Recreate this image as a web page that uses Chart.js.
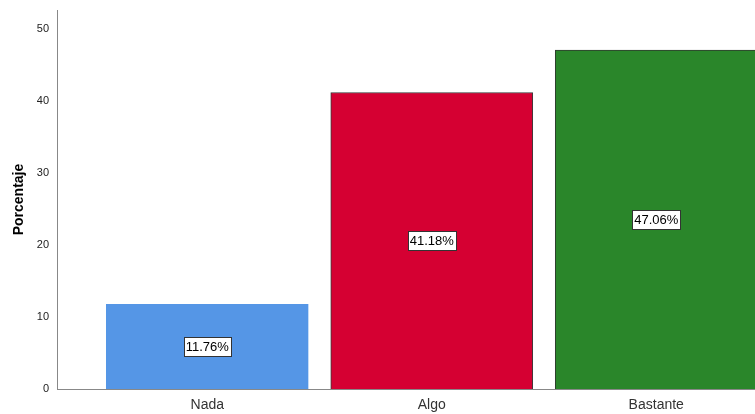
<!DOCTYPE html>
<html>
<head>
<meta charset="utf-8">
<script src="https://cdn.jsdelivr.net/npm/chart.js@4/dist/chart.umd.min.js"></script>
<style>
html,body{margin:0;padding:0;overflow:hidden;background:#fff;width:755px;height:414px;}
#wrap{position:absolute;left:0;top:0;width:770px;height:414px;}
</style>
</head>
<body>
<div id="wrap"><canvas id="c" width="770" height="414"></canvas></div>
<script>
const categories = ["Nada", "Algo", "Bastante"];
const percentages = [11.76, 41.18, 47.06];
const yTicks = [0, 10, 20, 30, 40, 50];
const barColors = ["#5596E6", "#D50032", "#2A862A"];
const barBorders = ["#5596E6", "#3a3a3a", "#2f3a2f"];

const labelPlugin = {
  id: 'valueBoxes',
  afterDatasetsDraw(chart) {
    const ctx = chart.ctx;
    const meta = chart.getDatasetMeta(0);
    const ys = chart.scales.y;
    ctx.save();
    ctx.font = '13px "Liberation Sans", Arial, sans-serif';
    ctx.textAlign = 'center';
    ctx.textBaseline = 'middle';
    meta.data.forEach((bar, i) => {
      const v = percentages[i];
      const txt = v.toFixed(2) + '%';
      const cy = ys.getPixelForValue(v / 2);
      const cx = bar.x;
      const w = Math.round(ctx.measureText(txt).width + 4);
      const h = 19;
      const x0 = Math.round(cx - w / 2) + 0.5, y0 = Math.round(cy - h / 2) + 0.5;
      ctx.fillStyle = '#fff';
      ctx.fillRect(x0, y0, w, h);
      ctx.strokeStyle = '#333';
      ctx.lineWidth = 1;
      ctx.strokeRect(x0, y0, w, h);
      ctx.fillStyle = '#000';
      ctx.fillText(txt, cx, cy + 1);
    });
    ctx.restore();
  }
};

new Chart(document.getElementById('c'), {
  type: 'bar',
  data: {
    datasets: [{
      data: categories.map((c, i) => ({ x: i, y: percentages[i] })),
      backgroundColor: barColors,
      borderColor: barBorders,
      borderWidth: 1,
      barThickness: 202
    }]
  },
  plugins: [labelPlugin],
  options: {
    responsive: false,
    animation: false,
    devicePixelRatio: 1,
    layout: { padding: { top: 10, left: 0, right: 0, bottom: 0 } },
    plugins: { legend: { display: false }, tooltip: { enabled: false } },
    scales: {
      x: {
        type: 'linear',
        min: -0.6693,
        max: 2.5067,
        offset: false,
        grid: { display: false, drawTicks: false },
        border: { display: true, color: '#888', width: 1 },
        afterBuildTicks(s) { s.ticks = categories.map((c, i) => ({ value: i })); },
        afterFit(s) { s.height = 25; s.paddingLeft = 0; s.paddingRight = 0; },
        ticks: {
          padding: 8,
          color: '#333',
          font: { family: '"Liberation Sans", Arial, sans-serif', size: 14 },
          callback: (v) => categories[v] !== undefined ? categories[v] : ''
        }
      },
      y: {
        min: 0,
        max: 52.64,
        grid: { display: false, drawTicks: false },
        border: { display: true, color: '#888', width: 1 },
        afterBuildTicks(s) { s.ticks = yTicks.map(v => ({ value: v })); },
        afterFit(s) { s.width = 57; s.paddingTop = 0; s.paddingBottom = 0; },
        ticks: {
          padding: 8,
          color: '#222',
          font: { family: '"Liberation Sans", Arial, sans-serif', size: 11 }
        },
        title: {
          display: true,
          text: 'Porcentaje',
          color: '#000',
          padding: { top: 11, bottom: 4 },
          font: { family: '"Liberation Sans", Arial, sans-serif', size: 14, weight: 'bold' }
        }
      }
    }
  }
});
</script>
</body>
</html>
